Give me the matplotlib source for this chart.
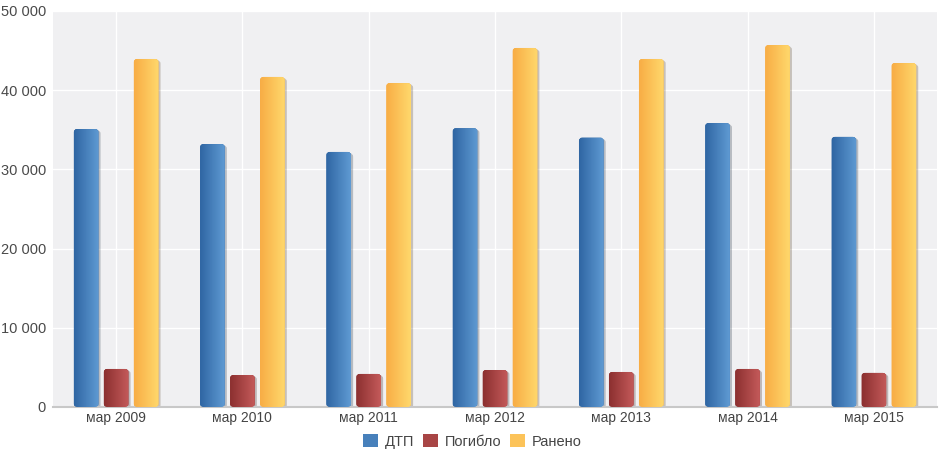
import numpy as np
import matplotlib.pyplot as plt
import matplotlib.patheffects as pe
from matplotlib.patches import FancyBboxPatch
from matplotlib.colors import LinearSegmentedColormap
from matplotlib.ticker import FuncFormatter

plt.rcParams["font.family"] = ["Liberation Sans", "DejaVu Sans"]

years = ["мар 2009", "мар 2010", "мар 2011", "мар 2012", "мар 2013", "мар 2014", "мар 2015"]
dtp = [35100, 33200, 32200, 35200, 34000, 35850, 34100]
pogiblo = [4800, 4040, 4170, 4670, 4420, 4800, 4300]
raneno = [43940, 41670, 40900, 45330, 43940, 45700, 43430]

series = [
    ("ДТП", dtp, ["#2f66a3", "#5f9ad3"]),
    ("Погибло", pogiblo, ["#8c3030", "#c45a5a"]),
    ("Ранено", raneno, ["#f8ad45", "#ffd86c"]),
]

fig = plt.figure(figsize=(9.45, 4.53), dpi=100)
ax = fig.add_axes([53 / 945, 46 / 453, 884 / 945, 396 / 453])
ax.set_facecolor("#f0f0f2")

x = np.arange(len(years))
w = 0.195
step = 0.2375
ax.set_xlim(-0.5, len(years) - 0.5)
ax.set_ylim(0, 50000)

# mutation aspect so the rounded corners look round in pixels
aspect = (50000 / 396) / (len(years) / 884)
grad = np.linspace(0, 1, 64).reshape(1, -1)

for i, (name, vals, cols) in enumerate(series):
    cmap = LinearSegmentedColormap.from_list(name, cols)
    bars = ax.bar(x + (i - 1) * step, vals, w, color="none", zorder=1)
    for b in bars:
        bx, by, bw, bh = b.get_x(), b.get_y(), b.get_width(), b.get_height()
        patch = FancyBboxPatch((bx, by), bw, bh,
                               boxstyle="round,pad=0,rounding_size=0.025",
                               mutation_aspect=aspect,
                               facecolor=cols[0], edgecolor="none", zorder=2,
                               path_effects=[pe.SimplePatchShadow(offset=(1.5, -1), alpha=0.25),
                                             pe.Normal()])
        ax.add_patch(patch)
        im = ax.imshow(grad, cmap=cmap, extent=(bx, bx + bw, by, by + bh),
                       aspect="auto", zorder=3, interpolation="bilinear")
        im.set_clip_path(patch)
    ax.bar(0, 0, color=cmap(0.5), label=name)

ax.set_aspect("auto")
ax.set_xlim(-0.5, len(years) - 0.5)
ax.set_ylim(0, 50000)

ax.set_xticks(x)
ax.set_xticklabels(years)
ax.set_yticks(range(0, 50001, 10000))
ax.yaxis.set_major_formatter(FuncFormatter(lambda v, p: f"{int(v):,}".replace(",", " ")))
ax.grid(True, color="white", linewidth=1, zorder=0)
ax.set_axisbelow(True)
for s in ["top", "right", "left"]:
    ax.spines[s].set_visible(False)
ax.spines["bottom"].set_color("#c8c8c8")
ax.spines["bottom"].set_linewidth(1.5)
ax.tick_params(axis="x", length=0, labelsize=10, colors="#444444", pad=3)
ax.tick_params(axis="y", length=0, labelsize=10.5, colors="#4a4a4a", pad=5)

leg = fig.legend(loc="lower center", bbox_to_anchor=(0.5, -0.02), ncol=3, frameon=False,
                 fontsize=10.5, handlelength=1.0, handleheight=1.0, handletextpad=0.5,
                 columnspacing=0.6, labelcolor="#444444")

fig.savefig("out.png", dpi=100)
